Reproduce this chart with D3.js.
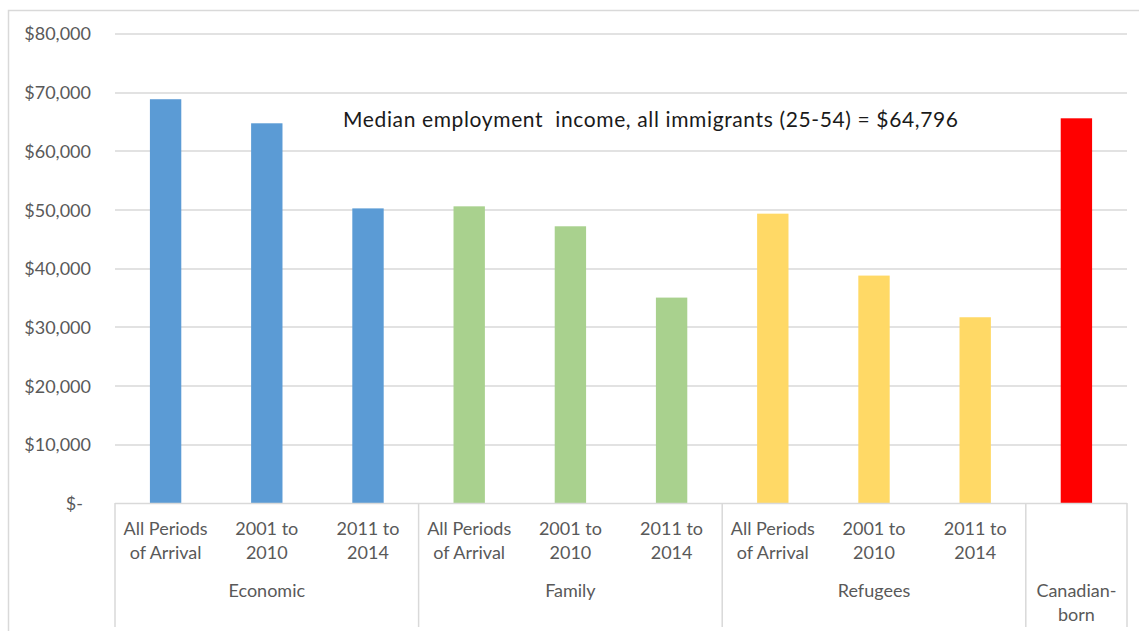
<!DOCTYPE html>
<html>
<head>
<meta charset="utf-8">
<script src="https://cdn.jsdelivr.net/npm/d3@7"></script>
<style>
  html, body { margin: 0; padding: 0; background: #fff; }
  svg { display: block; font-family: Lato, "Open Sans", sans-serif; }
</style>
</head>
<body>
<svg id="chart" width="1139" height="631"></svg>
<script>
// Median employment income by admission category and period of arrival
const groups = ["Economic", "Family", "Refugees", "Canadian-\nborn"];
const periods = ["All Periods\nof Arrival", "2001 to\n2010", "2011 to\n2014"];
const groupOf = [0, 0, 0, 1, 1, 1, 2, 2, 2, 3];
const periodOf = [0, 1, 2, 0, 1, 2, 0, 1, 2, null];
const incomes = [68800, 64700, 50200, 50550, 47150, 35000, 49300, 38750, 31650, 65550];
const barColors = ["#5B9BD5", "#A9D18E", "#FFD966", "#FF0000"];
const yTicks = [0, 10000, 20000, 30000, 40000, 50000, 60000, 70000, 80000];
const annotation = "Median employment  income, all immigrants (25-54) = $64,796";

const svg = d3.select("#chart");
const W = 1139, H = 631;
const m = { left: 115, right: 12, top: 33.5, bottom: 128 };
const plotW = W - m.left - m.right;
const plotH = H - m.top - m.bottom;
const textGray = "#595959";
const lineGray = "#D9D9D9";

const keys = incomes.map((d, i) => "c" + i);
const x = d3.scaleBand().domain(keys).range([0, plotW]).paddingInner(0.69).paddingOuter(0.345);
const y = d3.scaleLinear().domain([0, 80000]).range([plotH, 0]);

// chart border
svg.append("rect")
  .attr("x", 8.5).attr("y", 10.5)
  .attr("width", W + 10).attr("height", H + 10)
  .attr("fill", "none").attr("stroke", lineGray).attr("stroke-width", 1.5);

const g = svg.append("g").attr("transform", `translate(${m.left},${m.top})`);

// horizontal gridlines
g.append("g").selectAll("line").data(yTicks.filter(t => t > 0)).join("line")
  .attr("x1", 0).attr("x2", plotW)
  .attr("y1", d => Math.round(y(d)) + 0.5).attr("y2", d => Math.round(y(d)) + 0.5)
  .attr("stroke", lineGray).attr("stroke-width", 1.5);

// y axis labels (accounting style)
const fmt = d => d === 0 ? "$-" : "$" + d3.format(",")(d);
const yAxis = g.append("g")
  .call(d3.axisLeft(y).tickValues(yTicks).tickSize(0).tickPadding(24).tickFormat(fmt));
yAxis.attr("font-family", null).attr("font-size", null);
yAxis.select(".domain").remove();
yAxis.selectAll("text")
  .attr("fill", textGray).style("font-size", "18px")
  .attr("dy", "0.36em")
  .attr("dx", d => d === 0 ? -8 : 0);

// bars
g.append("g").selectAll("rect").data(incomes).join("rect")
  .attr("x", (d, i) => x(keys[i]))
  .attr("width", x.bandwidth())
  .attr("y", d => y(d))
  .attr("height", d => plotH - y(d))
  .attr("fill", (d, i) => barColors[groupOf[i]]);

// category axis baseline
g.append("line")
  .attr("x1", 0).attr("x2", plotW)
  .attr("y1", plotH + 0.5).attr("y2", plotH + 0.5)
  .attr("stroke", lineGray).attr("stroke-width", 1.5);

// group separators on the category axis
const step = x.step();
const bounds = [];
groupOf.forEach((gi, i) => { if (i === 0 || groupOf[i - 1] !== gi) bounds.push(i); });
bounds.push(keys.length);
const edge = i => i === 0 ? 0 : (i === keys.length ? plotW : x(keys[i]) - x.paddingInner() * step / 2);
g.append("g").selectAll("line").data(bounds).join("line")
  .attr("x1", d => edge(d)).attr("x2", d => edge(d))
  .attr("y1", plotH).attr("y2", plotH + 124)
  .attr("stroke", lineGray).attr("stroke-width", 1.5);

// period labels
const lab = g.append("g").attr("fill", textGray).style("font-size", "18px").attr("text-anchor", "middle");
keys.forEach((k, i) => {
  if (periodOf[i] === null) return;
  const t = lab.append("text").attr("x", x(k) + x.bandwidth() / 2).attr("y", plotH + 32);
  periods[periodOf[i]].split("\n").forEach((s, j) => {
    t.append("tspan").attr("x", x(k) + x.bandwidth() / 2).attr("dy", j === 0 ? 0 : 23.5).text(s);
  });
});

// group labels
groups.forEach((name, gi) => {
  const idx = groupOf.map((v, i) => v === gi ? i : -1).filter(i => i >= 0);
  const cx = (edge(idx[0]) + edge(idx[idx.length - 1] + 1)) / 2;
  const t = lab.append("text").attr("x", cx).attr("y", plotH + 94);
  name.split("\n").forEach((s, j) => {
    t.append("tspan").attr("x", cx).attr("dy", j === 0 ? 0 : 23.5).text(s);
  });
});

// annotation
svg.append("text")
  .attr("x", 343).attr("y", 127)
  .attr("fill", "#1a1a1a")
  .style("font-size", "21px")
  .style("white-space", "pre")
  .attr("xml:space", "preserve")
  .attr("textLength", 615)
  .attr("lengthAdjust", "spacing")
  .text(annotation);
</script>
</body>
</html>
